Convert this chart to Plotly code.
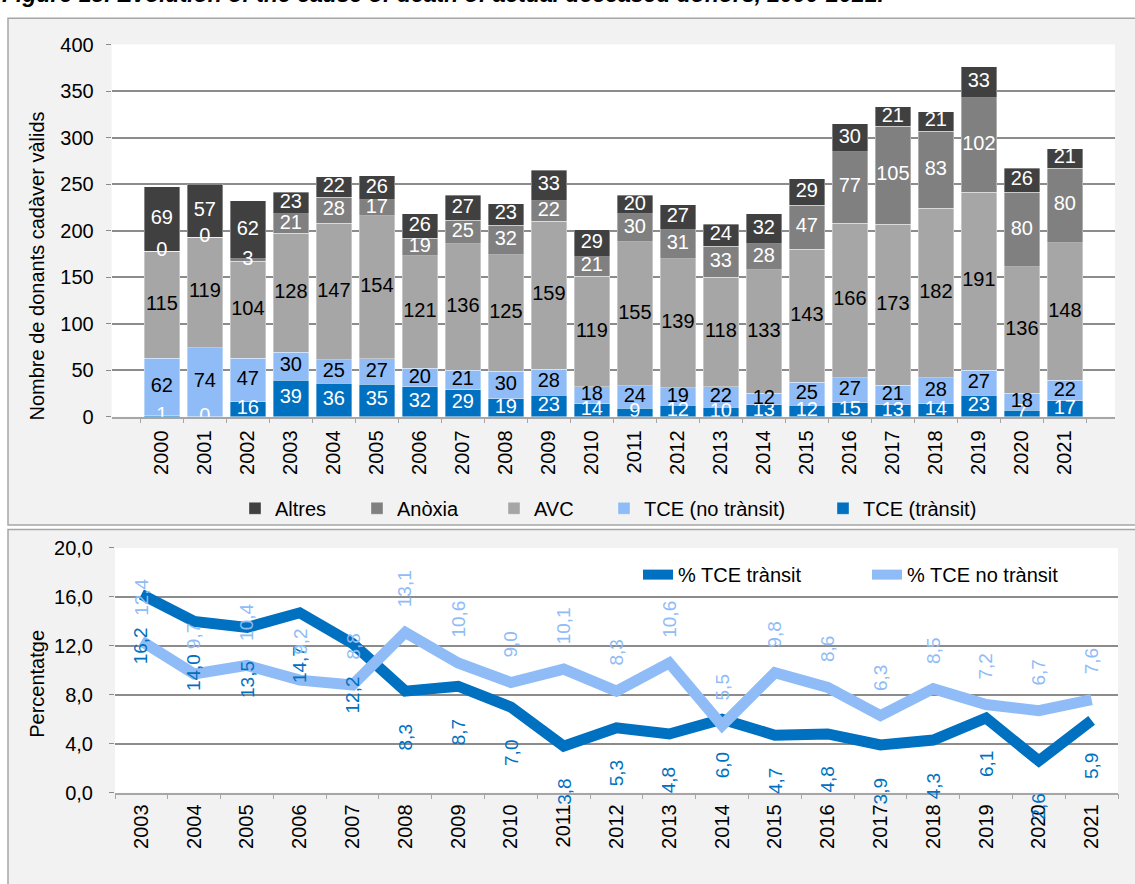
import plotly.graph_objects as go

# ---------------- data ----------------
years_bar = [str(y) for y in range(2000, 2022)]
tce_transit = [1, 0, 16, 39, 36, 35, 32, 29, 19, 23, 14, 9, 12, 10, 13, 12, 15, 13, 14, 23, 7, 17]
tce_no_transit = [62, 74, 47, 30, 25, 27, 20, 21, 30, 28, 18, 24, 19, 22, 12, 25, 27, 21, 28, 27, 18, 22]
avc = [115, 119, 104, 128, 147, 154, 121, 136, 125, 159, 119, 155, 139, 118, 133, 143, 166, 173, 182, 191, 136, 148]
anoxia = [0, 0, 3, 21, 28, 17, 19, 25, 32, 22, 21, 30, 31, 33, 28, 47, 77, 105, 83, 102, 80, 80]
altres = [69, 57, 62, 23, 22, 26, 26, 27, 23, 33, 29, 20, 27, 24, 32, 29, 30, 21, 21, 33, 26, 21]

years_line = [str(y) for y in range(2003, 2022)]
pct_transit = [16.2, 14.0, 13.5, 14.7, 12.2, 8.3, 8.7, 7.0, 3.8, 5.3, 4.8, 6.0, 4.7, 4.8, 3.9, 4.3, 6.1, 2.6, 5.9]
pct_no_transit = [12.4, 9.7, 10.4, 9.2, 8.8, 13.1, 10.6, 9.0, 10.1, 8.3, 10.6, 5.5, 9.8, 8.6, 6.3, 8.5, 7.2, 6.7, 7.6]

W, H = 1135, 884
FONT = "Arial, Liberation Sans, sans-serif"
FS = 20
C_T = "#0070C0"
C_NT = "#8FBCF6"

# name, values, colour, label colour, legend id, legend text x (px)
series = [
    ("TCE (trànsit)", tce_transit, C_T, "white", "legend5", 863),
    ("TCE (no trànsit)", tce_no_transit, C_NT, "black", "legend4", 644),
    ("AVC", avc, "#A6A6A6", "black", "legend3", 534),
    ("Anòxia", anoxia, "#808080", "white", "legend2", 397),
    ("Altres", altres, "#404040", "white", "legend", 275),
]

fig = go.Figure()

legends = {}
base = [0] * len(years_bar)
for name, vals, col, tcol, leg, tx in series:
    fig.add_trace(go.Bar(
        x=years_bar, y=vals, name=name,
        marker=dict(color=col, line=dict(width=0.8, color="rgba(255,255,255,0.45)")),
        xaxis="x", yaxis="y", legend=leg, hoverinfo="skip",
    ))
    mids = [b + v / 2 for b, v in zip(base, vals)]
    fig.add_trace(go.Scatter(
        x=years_bar, y=mids, mode="text", text=[str(v) for v in vals],
        textfont=dict(color=tcol, size=FS, family=FONT), showlegend=False,
        xaxis="x", yaxis="y", hoverinfo="skip",
    ))
    base = [b + v for b, v in zip(base, vals)]
    legends[leg] = dict(orientation="h", x=(tx - 40) / W, xanchor="left", y=1 - 510 / H, yanchor="middle",
                        font=dict(size=FS, color="black", family=FONT), bgcolor="rgba(0,0,0,0)")

fig.add_trace(go.Scatter(
    x=years_line, y=pct_transit, mode="lines", name="% TCE trànsit",
    line=dict(color=C_T, width=11), xaxis="x2", yaxis="y2", legend="legend6", hoverinfo="skip",
))
fig.add_trace(go.Scatter(
    x=years_line, y=pct_no_transit, mode="lines", name="% TCE no trànsit",
    line=dict(color=C_NT, width=11), xaxis="x2", yaxis="y2", legend="legend7", hoverinfo="skip",
))
legends["legend6"] = dict(orientation="h", x=(683 - 45) / W, xanchor="left", y=1 - 578 / H, yanchor="middle",
                          font=dict(size=FS, color="black", family=FONT), bgcolor="rgba(0,0,0,0)")
legends["legend7"] = dict(orientation="h", x=(912 - 45) / W, xanchor="left", y=1 - 578 / H, yanchor="middle",
                          font=dict(size=FS, color="black", family=FONT), bgcolor="rgba(0,0,0,0)")

annotations = []
for i, v in enumerate(pct_transit):
    annotations.append(dict(x=i, y=v, xref="x2", yref="y2", text=f"{v:.1f}".replace(".", ","),
                            textangle=-90, showarrow=False, yanchor="top", yshift=-31,
                            font=dict(color=C_T, size=19, family=FONT)))
for i, v in enumerate(pct_no_transit):
    annotations.append(dict(x=i, y=v, xref="x2", yref="y2", text=f"{v:.1f}".replace(".", ","),
                            textangle=-90, showarrow=False, yanchor="bottom", yshift=23,
                            font=dict(color=C_NT, size=19, family=FONT)))

annotations.append(dict(x=37 / W, y=1 - 262 / H, xref="paper", yref="paper", xanchor="center", yanchor="middle",
                        text="Nombre de donants cadàver vàlids",
                        textangle=-90, showarrow=False, font=dict(size=FS, color="black", family=FONT)))
annotations.append(dict(x=37 / W, y=1 - 690 / H, xref="paper", yref="paper", xanchor="center", yanchor="middle",
                        text="Percentatge",
                        textangle=-90, showarrow=False, font=dict(size=FS, color="black", family=FONT)))
annotations.append(dict(x=0, y=1 + 2 / H, xref="paper", yref="paper", xanchor="left", yanchor="bottom",
                        text="<b><i>Figure 13. Evolution of the cause of death of actual deceased donors, 2000-2021.</i></b>",
                        showarrow=False, font=dict(size=23, color="black", family=FONT)))

shapes = [
    dict(type="rect", xref="paper", yref="paper", x0=8 / W, x1=1.05, y0=1 - 527 / H, y1=1 - 7.5 / H,
         fillcolor="#F2F2F2", line=dict(color="#A6A6A6", width=1.5), layer="below"),
    dict(type="rect", xref="paper", yref="paper", x0=8 / W, x1=1.05, y0=-0.05, y1=1 - 531.7 / H,
         fillcolor="#F2F2F2", line=dict(color="#A6A6A6", width=1.5), layer="below"),
    dict(type="rect", xref="x domain", yref="y domain", x0=0, x1=1, y0=0, y1=1,
         fillcolor="white", line=dict(width=0), layer="below"),
    dict(type="rect", xref="x2 domain", yref="y2 domain", x0=0, x1=1, y0=0, y1=1,
         fillcolor="white", line=dict(width=0), layer="below"),
]

axis_common = dict(tickfont=dict(size=FS, color="black", family=FONT))

fig.update_layout(
    width=W, height=H, margin=dict(l=0, r=0, t=0, b=0),
    paper_bgcolor="white", plot_bgcolor="white",
    font=dict(family=FONT, color="black"),
    separators=",.",
    barmode="stack", bargap=0.175,
    showlegend=True,
    xaxis=dict(domain=[111.7 / W, 1115 / W], anchor="y", type="category", tickangle=-90,
               showline=True, linecolor="#A6A6A6", linewidth=1.5, ticks="outside", tickson="boundaries",
               ticklen=5, tickcolor="#A6A6A6", showgrid=False, ticklabelstandoff=4, **axis_common),
    yaxis=dict(domain=[1 - 416 / H, 1 - 34.4 / H], anchor="x", range=[0, 400], dtick=50,
               gridcolor="#8C8C8C", gridwidth=1.5, zeroline=False, ticks="outside", ticklen=5,
               tickcolor="#8C8C8C", ticklabelstandoff=8, **axis_common),
    xaxis2=dict(domain=[115 / W, 1118 / W], anchor="y2", type="category", tickangle=-90,
                range=[-0.5, len(years_line) - 0.5],
                showline=True, linecolor="#A6A6A6", linewidth=1.5, ticks="outside", tickson="boundaries",
                ticklen=5, tickcolor="#A6A6A6", showgrid=False, ticklabelstandoff=2, **axis_common),
    yaxis2=dict(domain=[1 - 801.6 / H, 1 - 550.7 / H], anchor="x2", range=[0, 20], dtick=4, tickformat=".1f",
                gridcolor="#8C8C8C", gridwidth=1.5, zeroline=False, ticks="outside", ticklen=5,
                tickcolor="#8C8C8C", ticklabelstandoff=12, **axis_common),
    annotations=annotations,
    shapes=shapes,
)
fig.update_layout(**legends)

fig.write_html("out.html", config={"displayModeBar": False},
               post_script="document.body.style.margin='0';document.body.style.overflow='hidden';")
